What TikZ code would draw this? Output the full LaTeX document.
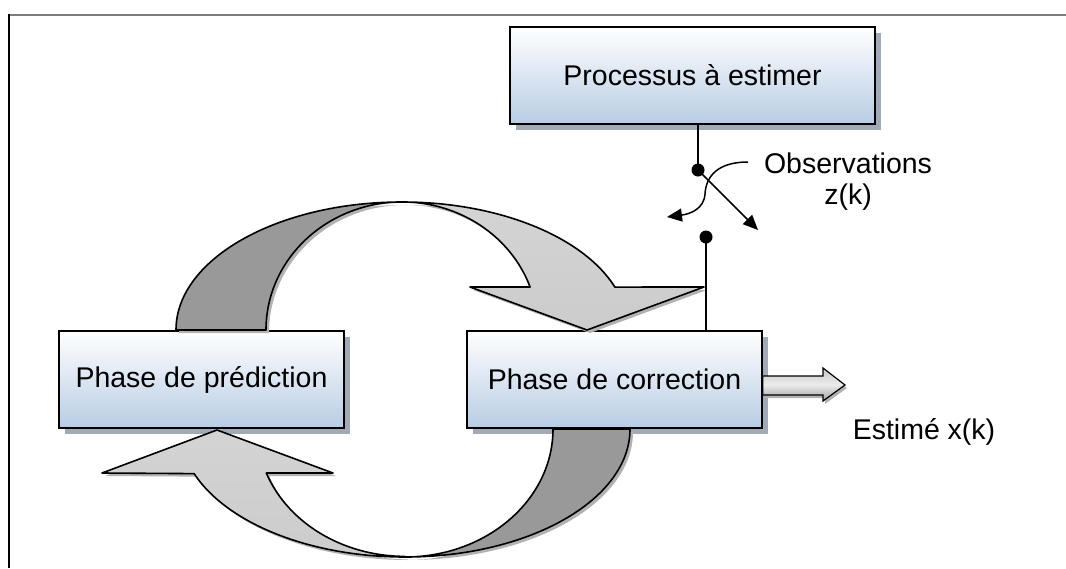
\documentclass[tikz,border=0pt]{standalone}
\usepackage{fontspec}
\setmainfont{Liberation Sans}
\usetikzlibrary{arrows.meta,shadows}

\definecolor{boxblue}{RGB}{184,204,228}
\definecolor{boxshade}{RGB}{162,170,184}
\definecolor{ribbondark}{RGB}{153,153,153}
\definecolor{ribbonlight}{RGB}{204,204,204}
\definecolor{ribbonshade}{RGB}{178,178,178}
\definecolor{framegray}{RGB}{125,125,125}

\tikzset{
  every node/.style={font=\fontsize{28.5}{31}\selectfont},
  phasebox/.style={draw=black, line width=1.6pt, top color=white, bottom color=boxblue,
    inner sep=0pt, drop shadow={shadow xshift=6pt, shadow yshift=-6pt, fill=boxshade, opacity=1}},
  ribbon/.style={draw=black, line width=1.6pt, line join=round,
    preaction={fill=ribbonshade, transform canvas={xshift=3pt, yshift=-3pt}}},
  dot/.style={circle, fill=black, inner sep=0pt, minimum size=13pt},
  wire/.style={draw=black, line width=1.5pt},
  switcharrow/.style={wire, -{Triangle[length=15pt, width=13pt]}},
  label/.style={inner sep=0pt, align=center},
}

\begin{document}
\begin{tikzpicture}[x=1pt, y=-1pt]
  \useasboundingbox (0,0) rectangle (1066,568);

  % frame lines
  \draw[framegray, line width=2.2pt] (8,15) -- (1066,15);
  \draw[black, line width=1.6pt] (9,14) -- (9,568);

  % boxes
  \node[phasebox, minimum width=365pt, minimum height=97pt] (proc) at (692.5,75.5) {Processus à estimer};
  \node[phasebox, minimum width=285pt, minimum height=97pt] (pred) at (201.5,379.5) {Phase de prédiction};
  \node[phasebox, minimum width=295pt, minimum height=97pt] (corr) at (614.5,379.5) {Phase de correction};

  % upper loop arrow: back side, then front side with head
  \path[ribbon, fill=ribbondark]
    (176,330) arc[start angle=180, end angle=270, x radius=226, y radius=128]
              arc[start angle=270, end angle=180, x radius=136, y radius=128] -- cycle;
  \path[ribbon, top color=ribbonlight!85!white, bottom color=ribbonlight]
    (402,202) arc[start angle=270, end angle=340.4, x radius=226, y radius=128]
    -- (704,287) -- (587,330) -- (470,287) -- (530.1,287)
    arc[start angle=340.4, end angle=270, x radius=136, y radius=128] -- cycle;

  % lower loop arrow
  \path[ribbon, fill=ribbondark]
    (630,429) arc[start angle=0, end angle=90, x radius=225, y radius=128]
              arc[start angle=90, end angle=0, x radius=148, y radius=128] -- cycle;
  \path[ribbon, top color=ribbonlight!85!white, bottom color=ribbonlight]
    (405,557) arc[start angle=90, end angle=159.6, x radius=225, y radius=128]
    -- (102,473) -- (217,430) -- (333,473) -- (266.3,473)
    arc[start angle=159.6, end angle=90, x radius=148, y radius=128] -- cycle;

  % estimate output arrow
  \path[draw=black, line width=1.2pt, line join=miter,
        preaction={fill=ribbonshade, transform canvas={xshift=2pt, yshift=-3pt}},
        top color=gray!45, bottom color=gray!75, middle color=gray!15]
    (corr.east |- 0,376) -- (823,376) -- (823,368) -- (845,385) -- (823,401) -- (823,395)
    -- (corr.east |- 0,395) -- cycle;
  \node[label] (est) at (924,432) {Estimé x(k)};

  % observation switch
  \node[dot] (swA) at (698,170) {};
  \node[dot] (swB) at (706,237) {};
  \draw[wire] (swA |- proc.south) -- (swA.center);
  \draw[wire] (swB.center) -- (swB |- corr.north);
  \coordinate (openEnd) at (758,230);
  \coordinate (curveStart) at (748,162);
  \coordinate (curveEnd) at (667,217);
  \draw[switcharrow] (swA.center) -- (openEnd);
  \draw[switcharrow] (curveStart) .. controls (718,162) and (706,176) .. (705,194)
    .. controls (704,209) and (690,214) .. (curveEnd);
  \node[label] (obs) at (848,182) {Observations\\z(k)};
\end{tikzpicture}
\end{document}
